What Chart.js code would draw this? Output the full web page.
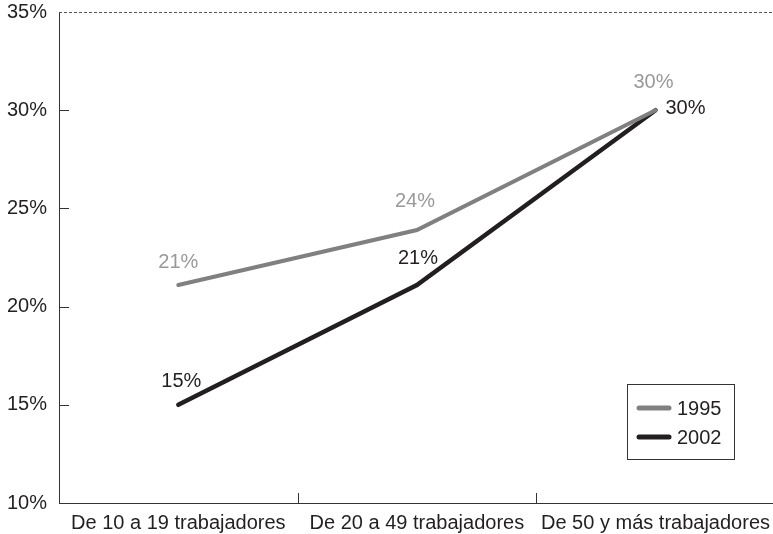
<!DOCTYPE html>
<html>
<head>
<meta charset="utf-8">
<script src="https://cdn.jsdelivr.net/npm/chart.js@4"></script>
<style>
  html, body { margin: 0; padding: 0; background: #fff; overflow: hidden; }
  #wrap { width: 783px; height: 557px; margin-left: -5px; margin-top: -12px; }
</style>
</head>
<body>
<div id="wrap"><canvas id="chartTamano"></canvas></div>
<script>
// data
const categorias = ["De 10 a 19 trabajadores", "De 20 a 49 trabajadores", "De 50 y más trabajadores"];
const serie1995 = [21.1, 23.9, 30.0];
const serie2002 = [15.0, 21.1, 30.0];
const etiquetas1995 = ["21%", "24%", "30%"];
const etiquetas2002 = ["15%", "21%", "30%"];

const FONT = "'Liberation Sans', Arial, sans-serif";
const FSIZE = 20;

// label placement (dx, dy, align) per point
const labelPos = [
  [[0, -23, "center"], [-2, -29, "center"], [-2, -28, "center"]],
  [[3, -23, "center"], [1, -27, "center"], [10, -2, "left"]]
];

const extras = {
  id: "extras",
  afterDraw(chart) {
    const ctx = chart.ctx;
    const area = chart.chartArea;
    const x = chart.scales.x, y = chart.scales.y;
    ctx.save();
    // dashed top border
    ctx.strokeStyle = "#555";
    ctx.lineWidth = 1;
    ctx.setLineDash([3, 2]);
    ctx.beginPath();
    ctx.moveTo(area.left, Math.round(area.top) + 0.5);
    ctx.lineTo(area.right, Math.round(area.top) + 0.5);
    ctx.stroke();
    ctx.setLineDash([]);
    // inner ticks on y
    ctx.strokeStyle = "#333";
    y.ticks.forEach(t => {
      const py = Math.round(y.getPixelForValue(t.value)) + 0.5;
      if (t.value === y.max || t.value === y.min) return;
      ctx.beginPath();
      ctx.moveTo(area.left, py);
      ctx.lineTo(area.left + 10, py);
      ctx.stroke();
    });
    // inner ticks on x at category boundaries
    for (let i = 1; i < categorias.length; i++) {
      const px = Math.round((x.getPixelForValue(i - 1) + x.getPixelForValue(i)) / 2) + 0.5;
      ctx.beginPath();
      ctx.moveTo(px, area.bottom);
      ctx.lineTo(px, area.bottom - 10);
      ctx.stroke();
    }
    // data labels
    ctx.font = FSIZE + "px " + FONT;
    ctx.textBaseline = "middle";
    const labelSets = [etiquetas1995, etiquetas2002];
    const labelColors = ["#999999", "#231f20"];
    chart.data.datasets.forEach((ds, di) => {
      const meta = chart.getDatasetMeta(di);
      meta.data.forEach((pt, i) => {
        const p = labelPos[di][i];
        ctx.fillStyle = labelColors[di];
        ctx.textAlign = p[2];
        ctx.fillText(labelSets[di][i], pt.x + p[0], pt.y + p[1]);
      });
    });
    // legend box (canvas is shifted by 5,12)
    const lx = 632, ly = 396, lw = 107, lh = 75;
    ctx.strokeStyle = "#333";
    ctx.lineWidth = 1;
    ctx.strokeRect(lx + 0.5, ly + 0.5, lw, lh);
    ctx.textAlign = "left";
    chart.data.datasets.forEach((ds, di) => {
      const yy = ly + 24 + di * 29;
      ctx.strokeStyle = ds.borderColor;
      ctx.lineWidth = 5;
      ctx.lineCap = "round";
      ctx.beginPath();
      ctx.moveTo(lx + 12, yy);
      ctx.lineTo(lx + 42, yy);
      ctx.stroke();
      ctx.fillStyle = "#231f20";
      ctx.fillText(ds.label, lx + 50, yy + 1);
    });
    ctx.restore();
  }
};

new Chart(document.getElementById("chartTamano"), {
  type: "line",
  data: {
    labels: categorias,
    datasets: [
      {
        label: "1995",
        data: serie1995,
        borderColor: "#808080",
        borderWidth: 4,
        pointRadius: 0,
        tension: 0,
        borderCapStyle: "round",
      },
      {
        label: "2002",
        data: serie2002,
        borderColor: "#231f20",
        borderWidth: 4.5,
        pointRadius: 0,
        tension: 0,
        borderCapStyle: "round",
      },
    ],
  },
  options: {
    responsive: true,
    maintainAspectRatio: false,
    animation: false,
    layout: { padding: { top: 0, right: 0, left: 0, bottom: 2 } },
    plugins: { legend: { display: false }, tooltip: { enabled: false } },
    scales: {
      x: {
        offset: true,
        grid: { display: false, drawTicks: false },
        border: { display: true, color: "#333", width: 1 },
        ticks: { color: "#231f20", font: { family: FONT, size: FSIZE }, padding: 8, maxRotation: 0, autoSkip: false },
      },
      y: {
        min: 10,
        max: 35,
        grid: { display: false, drawTicks: false },
        border: { display: true, color: "#333", width: 1 },
        ticks: {
          stepSize: 5,
          color: "#231f20",
          font: { family: FONT, size: FSIZE },
          padding: 12,
          callback: (v) => v + "%",
        },
      },
    },
  },
  plugins: [extras],
});
</script>
</body>
</html>
